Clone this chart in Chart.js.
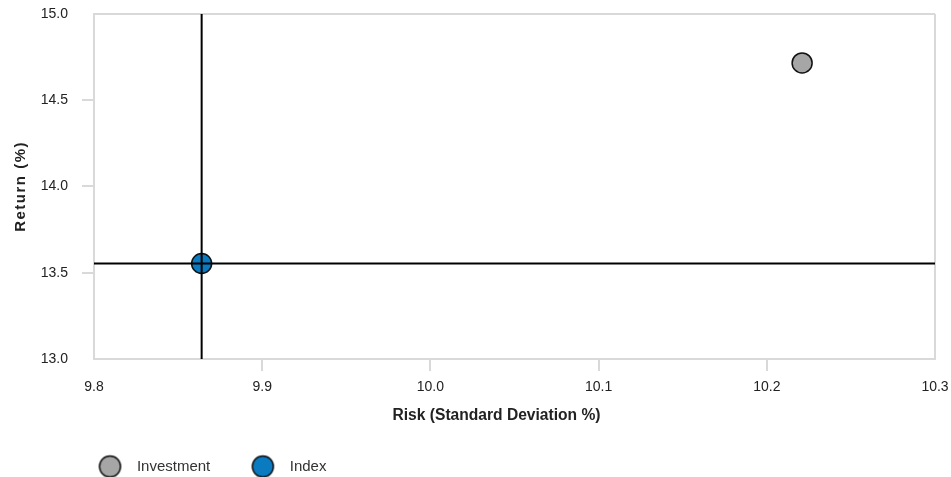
<!DOCTYPE html>
<html>
<head>
<meta charset="utf-8">
<script src="https://cdn.jsdelivr.net/npm/chart.js@4"></script>
<style>
  body { margin: 0; background: #fff; }
  #wrap { width: 951px; height: 477px; }
</style>
</head>
<body>
<div id="wrap"><canvas id="riskChart"></canvas></div>
<script>
// Risk / return data
const series = ['Investment', 'Index'];
const riskValues = [10.221, 9.864];
const returnValues = [14.716, 13.553];
const seriesColors = ['#a6a6a6', '#0a7bc1'];
const riskTicks = [9.8, 9.9, 10.0, 10.1, 10.2, 10.3];
const returnTicks = [13.0, 13.5, 14.0, 14.5, 15.0];

const riskMin = riskTicks[0], riskMax = riskTicks[riskTicks.length - 1];
const returnMin = returnTicks[0], returnMax = returnTicks[returnTicks.length - 1];
const frameColor = '#d9d9d9';

// Legend markers: circle sits near the right end of a wide box so the text gap matches
function legendDot(fill) {
  const c = document.createElement('canvas');
  c.width = 67;
  c.height = 26;
  const g = c.getContext('2d');
  g.beginPath();
  g.arc(47.6, 13, 10.5, 0, Math.PI * 2);
  g.fillStyle = fill;
  g.fill();
  g.lineWidth = 1.5;
  g.strokeStyle = '#111';
  g.stroke();
  return c;
}
const legendDots = {};
series.forEach((name, i) => { legendDots[name] = legendDot(seriesColors[i]); });

// Crosshair through the index point
const crossDatasets = [
  {
    label: 'crossV',
    data: [{x: riskValues[1], y: returnMin}, {x: riskValues[1], y: returnMax}],
  },
  {
    label: 'crossH',
    data: [{x: riskMin, y: returnValues[1]}, {x: riskMax, y: returnValues[1]}],
  },
].map(d => Object.assign(d, {
  showLine: true,
  borderColor: '#000',
  borderWidth: 2,
  pointRadius: 0,
  pointHoverRadius: 0,
  order: 0,
}));

const pointDatasets = series.map((name, i) => ({
  label: name,
  data: [{x: riskValues[i], y: returnValues[i]}],
  backgroundColor: seriesColors[i],
  borderColor: '#111',
  borderWidth: 1.5,
  pointRadius: 10,
  pointHoverRadius: 10,
  order: 1,
}));

// Axis titles: letter-spaced y title, x title sits a little left of centre
function patchTitle(scale, spacing, shiftX) {
  if (scale.drawTitle.patched) return;
  const base = scale.drawTitle;
  scale.drawTitle = function () {
    this.ctx.save();
    this.ctx.letterSpacing = spacing;
    this.ctx.translate(shiftX, 0);
    base.call(this);
    this.ctx.restore();
  };
  scale.drawTitle.patched = true;
}
const axisTitles = {
  id: 'axisTitles',
  beforeDraw(chart) {
    patchTitle(chart.scales.y, '1.5px', 0);
    patchTitle(chart.scales.x, '0px', -18);
  }
};

// Legend starts under the axis labels, a bit lower than the layout puts it
const legendOffset = {
  id: 'legendOffset',
  afterLayout(chart) {
    chart.legend.left = 57.4;
    chart.legend.top += 7;
    chart.legend.bottom += 7;
  }
};

Chart.defaults.font.family = '"Liberation Sans", Arial, sans-serif';
Chart.defaults.color = '#222';

function edgeOnly(max) {
  return ctx => (ctx.tick && ctx.tick.value === max ? frameColor : 'rgba(0,0,0,0)');
}
function innerTicks(min, max) {
  return ctx => (ctx.tick && (ctx.tick.value === min || ctx.tick.value === max) ? 'rgba(0,0,0,0)' : frameColor);
}

new Chart(document.getElementById('riskChart'), {
  type: 'scatter',
  data: { datasets: [...crossDatasets, ...pointDatasets] },
  plugins: [axisTitles, legendOffset],
  options: {
    responsive: true,
    maintainAspectRatio: false,
    animation: false,
    layout: {
      padding: { top: 14, right: 16, left: 0, bottom: 0 },
    },
    scales: {
      x: {
        type: 'linear',
        min: riskMin,
        max: riskMax,
        afterBuildTicks: scale => { scale.ticks = riskTicks.map(v => ({value: v})); },
        afterFit: scale => { scale.paddingLeft = 0; scale.paddingRight = 0; },
        ticks: {
          padding: 8,
          font: { size: 14 },
          callback: v => v.toFixed(1),
        },
        grid: {
          color: edgeOnly(riskMax),
          lineWidth: 2,
          tickColor: innerTicks(riskMin, riskMax),
          tickWidth: 2,
          tickLength: 12,
        },
        border: { color: frameColor, width: 2 },
        title: {
          display: true,
          text: 'Risk (Standard Deviation %)',
          font: { size: 15.6, weight: 'bold' },
          padding: { top: 3, bottom: 21.6 },
        },
      },
      y: {
        type: 'linear',
        min: returnMin,
        max: returnMax,
        afterBuildTicks: scale => { scale.ticks = returnTicks.map(v => ({value: v})); },
        afterFit: scale => { scale.width = 94; scale.paddingTop = 0; scale.paddingBottom = 0; },
        ticks: {
          padding: 14,
          font: { size: 14 },
          callback: v => v.toFixed(1),
        },
        grid: {
          color: edgeOnly(returnMax),
          lineWidth: 2,
          tickColor: innerTicks(returnMin, returnMax),
          tickWidth: 2,
          tickLength: 12,
        },
        border: { color: frameColor, width: 2 },
        title: {
          display: true,
          text: 'Return (%)',
          font: { size: 15, weight: 'bold' },
          padding: { top: 12, bottom: 0 },
        },
      },
    },
    plugins: {
      legend: {
        position: 'bottom',
        align: 'start',
        labels: {
          usePointStyle: true,
          pointStyleWidth: 67,
          padding: 5,
          color: '#333',
          font: { size: 15 },
          generateLabels: chart => Chart.defaults.plugins.legend.labels.generateLabels(chart)
            .filter(item => legendDots[item.text])
            .map(item => Object.assign(item, { pointStyle: legendDots[item.text] })),
        },
      },
      tooltip: { enabled: false },
    },
  },
});
</script>
</body>
</html>
